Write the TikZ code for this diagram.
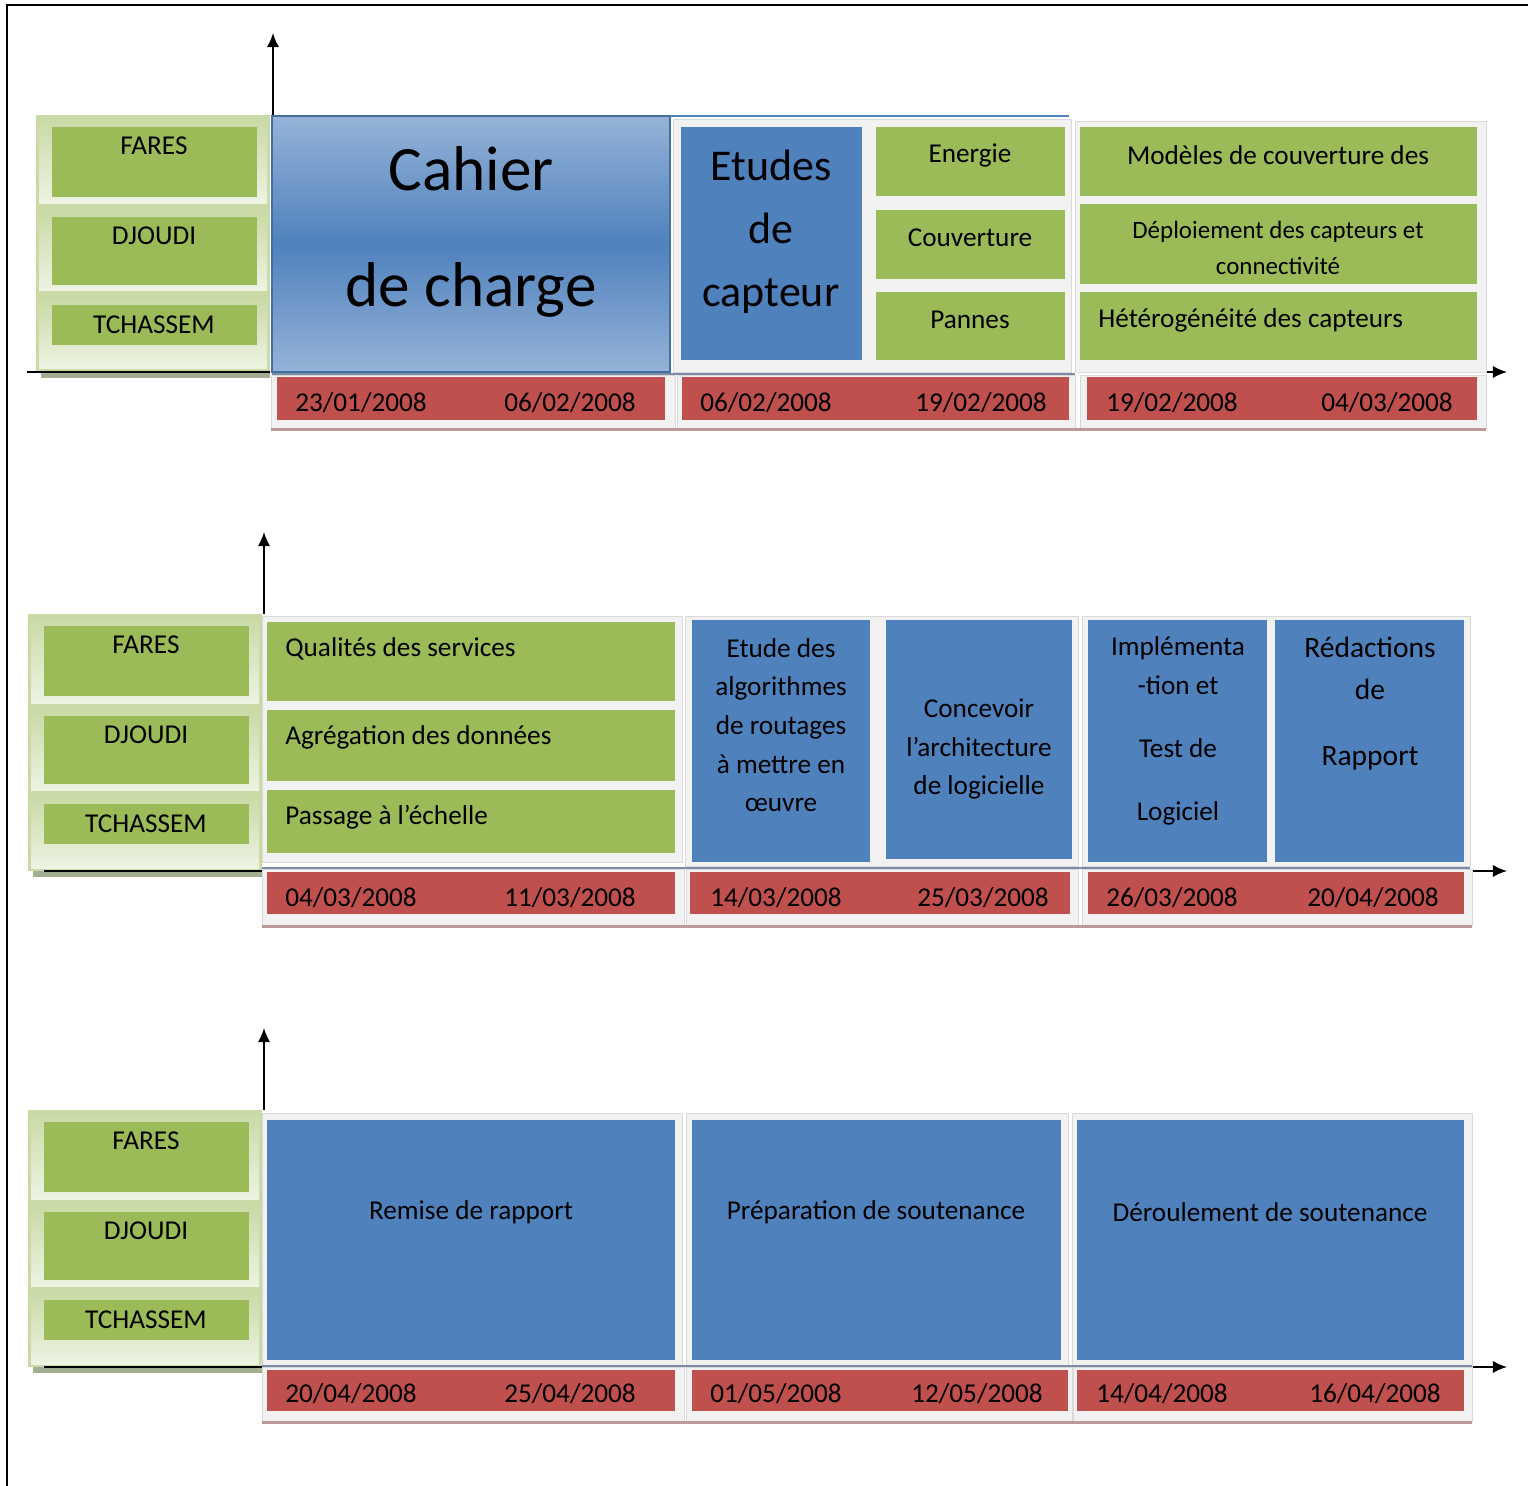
\documentclass[tikz,border=0pt]{standalone}
\usepackage{fontspec}
\setmainfont{Carlito}
\usetikzlibrary{arrows.meta}

\definecolor{vert}{HTML}{9BBB59}
\definecolor{bleu}{HTML}{4F81BD}
\definecolor{bleuclair}{HTML}{95B3D7}
\definecolor{rouge}{HTML}{C0504D}
\definecolor{grisfond}{HTML}{F2F2F2}
\definecolor{grisbord}{HTML}{D9D9D9}
\definecolor{vertclair}{HTML}{EEF3E3}
\definecolor{vertmoyen}{HTML}{C9DAA6}
\definecolor{ombre}{HTML}{A3AD92}
\definecolor{rose}{HTML}{BC9A9A}
\definecolor{liseret}{HTML}{7A8CA6}

\tikzset{
	x=0.02cm, y=-0.02cm,
	txt/.style={inner sep=0pt, align=center, font=\fontsize{15.5}{22}\selectfont},
	cadre/.style={fill=grisfond, draw=grisbord, line width=0.4pt},
	axe/.style={-{Latex[length=8pt,width=7pt]}, line width=1.1pt},
}

\begin{document}
\begin{tikzpicture}

	\useasboundingbox (0,0) rectangle (1528,1486);
	\draw[line width=1pt] (7,1486) -- (7,5) -- (1528,5);

	% panneaux des noms et axes
	\foreach \s/\ox/\oy/\ax/\lx/\rx in {1/36/115/273/27/1486, 2/28/614/264/44/1465, 3/28/1110/264/44/1465} {
		\fill[vertmoyen] (\ox,\oy) rectangle ++(234,257);
		\shade[top color=vertmoyen, bottom color=vertclair] (\ox+3,\oy+3) rectangle (\ox+231,\oy+89);
		\shade[top color=vertmoyen, bottom color=vertclair] (\ox+3,\oy+96) rectangle (\ox+231,\oy+176);
		\shade[top color=vertmoyen, bottom color=vertclair] (\ox+3,\oy+183) rectangle (\ox+231,\oy+254);
		\fill[vert] (\ox+16,\oy+12) rectangle (\ox+221,\oy+82);
		\fill[vert] (\ox+16,\oy+102) rectangle (\ox+221,\oy+170);
		\fill[vert] (\ox+16,\oy+190) rectangle (\ox+221,\oy+230);
		\node[txt] (fares\s) at (\ox+118,\oy+31) {FARES};
		\node[txt] (djoudi\s) at (\ox+118,\oy+121) {DJOUDI};
		\node[txt] (tchassem\s) at (\ox+118,\oy+210) {TCHASSEM};
		\fill[ombre] (\ox+5,\oy+257) rectangle (\ox+234,\oy+263);
		\draw[line width=1.2pt] (\lx,\oy+257) -- (\ox+234,\oy+257);
		\coordinate (pied\s) at (\ax,\oy);
		\coordinate (haut\s) at (\ax,\oy-82);
		\draw[axe] (pied\s) -- (haut\s);
		\coordinate (depart\s) at (\rx,\oy+257);
		\coordinate (bout\s) at (1507,\oy+257);
		\draw[axe] (depart\s) -- (bout\s);
	}

	% ---- premiere ligne ----
	\shade[top color=bleuclair, bottom color=bleuclair, middle color=bleu] (272,116) rectangle (670,372);
	\draw[bleu!85!black, line width=1.2pt] (272,116) rectangle (670,372);
	\node[txt, font=\fontsize{36}{66}\selectfont] (cahier) at (471,232) {Cahier\\de charge};
	\draw[bleu, line width=1.5pt] (670,116) -- (1069,116);

	\filldraw[cadre] (673,119) rectangle (1071,372);
	\fill[bleu] (681,127) rectangle (862,360);
	\node[txt, font=\fontsize{25}{36}\selectfont] (etudes) at (771,232) {Etudes\\de\\capteur};
	\fill[vert] (876,127) rectangle (1065,196);
	\fill[vert] (876,210) rectangle (1065,279);
	\fill[vert] (876,292) rectangle (1065,360);
	\node[txt] (energie) at (970,155) {Energie};
	\node[txt] (couverture) at (970,238) {Couverture};
	\node[txt] (pannes) at (970,320) {Pannes};

	\filldraw[cadre] (1075,121) rectangle (1486,372);
	\fill[vert] (1080,127) rectangle (1477,196);
	\fill[vert] (1080,204) rectangle (1477,284);
	\fill[vert] (1080,292) rectangle (1477,360);
	\node[txt] (modeles) at (1278,155) {Modèles de couverture des};
	\node[txt, font=\fontsize{14.2}{20.4}\selectfont] (deploiement) at (1278,248) {Déploiement des capteurs et\\connectivité};
	\node[txt, anchor=west] (hetero) at (1098,320) {Hétérogénéité des capteurs};
	\draw[liseret, line width=1.5pt] (272,374) -- (1075,374);

	\filldraw[cadre] (271,375) rectangle (675,428);
	\filldraw[cadre] (677,375) rectangle (1075,428);
	\filldraw[cadre] (1080,375) rectangle (1486,428);
	\fill[rose] (271,428) rectangle (1486,431);
	\fill[rouge] (277,377) rectangle (665,420);
	\fill[rouge] (682,377) rectangle (1069,420);
	\fill[rouge] (1087,377) rectangle (1477,420);
	\node[txt] (debut1) at (361,403) {23/01/2008};
	\node[txt] (fin1) at (570,403) {06/02/2008};
	\node[txt] (debut2) at (766,403) {06/02/2008};
	\node[txt] (fin2) at (981,403) {19/02/2008};
	\node[txt] (debut3) at (1172,403) {19/02/2008};
	\node[txt] (fin3) at (1387,403) {04/03/2008};

	% ---- deuxieme ligne ----
	\filldraw[cadre] (262,616) rectangle (682,862);
	\fill[vert] (267,622) rectangle (675,701);
	\fill[vert] (267,710) rectangle (675,781);
	\fill[vert] (267,790) rectangle (675,853);
	\node[txt, anchor=west] (qualites) at (285,649) {Qualités des services};
	\node[txt, anchor=west] (agregation) at (285,737) {Agrégation des données};
	\node[txt, anchor=west] (passage) at (285,817) {Passage à l’échelle};

	\filldraw[cadre] (685,616) rectangle (1078,866);
	\fill[bleu] (692,620) rectangle (870,862);
	\fill[bleu] (886,620) rectangle (1072,859);
	\node[txt] (routage) at (781,725) {Etude des\\algorithmes\\de routages\\à mettre en\\œuvre};
	\node[txt] (concevoir) at (979,749) {Concevoir\\l’architecture\\de logicielle};

	\filldraw[cadre] (1082,616) rectangle (1470,866);
	\fill[bleu] (1088,620) rectangle (1267,862);
	\fill[bleu] (1275,620) rectangle (1464,862);
	\node[txt] (implementation) at (1178,731) {Implémenta\\-tion et\\[14pt]Test de\\[14pt]Logiciel};
	\node[txt, font=\fontsize{16.8}{23.8}\selectfont] (redaction) at (1370,704) {Rédactions\\de\\[14pt]Rapport};
	\draw[liseret, line width=1.5pt] (262,868) -- (1470,868);

	\filldraw[cadre] (262,869) rectangle (684,925);
	\filldraw[cadre] (686,869) rectangle (1078,925);
	\filldraw[cadre] (1082,869) rectangle (1472,925);
	\fill[rose] (262,925) rectangle (1472,928);
	\fill[rouge] (267,872) rectangle (675,914);
	\fill[rouge] (690,872) rectangle (1070,914);
	\fill[rouge] (1088,872) rectangle (1464,914);
	\node[txt] (debut4) at (351,898) {04/03/2008};
	\node[txt] (fin4) at (570,898) {11/03/2008};
	\node[txt] (debut5) at (776,898) {14/03/2008};
	\node[txt] (fin5) at (983,898) {25/03/2008};
	\node[txt] (debut6) at (1172,898) {26/03/2008};
	\node[txt] (fin6) at (1373,898) {20/04/2008};

	% ---- troisieme ligne ----
	\filldraw[cadre] (262,1113) rectangle (682,1366);
	\filldraw[cadre] (686,1113) rectangle (1068,1366);
	\filldraw[cadre] (1072,1113) rectangle (1472,1366);
	\fill[bleu] (267,1120) rectangle (675,1360);
	\fill[bleu] (692,1120) rectangle (1061,1360);
	\fill[bleu] (1077,1120) rectangle (1464,1360);
	\node[txt] (remise) at (471,1212) {Remise de rapport};
	\node[txt] (preparation) at (876,1212) {Préparation de soutenance};
	\node[txt] (deroulement) at (1270,1212) {Déroulement de soutenance};
	\draw[liseret, line width=1.5pt] (262,1366) -- (1472,1366);

	\filldraw[cadre] (262,1367) rectangle (684,1421);
	\filldraw[cadre] (686,1367) rectangle (1072,1421);
	\filldraw[cadre] (1073,1367) rectangle (1472,1421);
	\fill[rose] (262,1421) rectangle (1472,1424);
	\fill[rouge] (267,1370) rectangle (675,1411);
	\fill[rouge] (692,1370) rectangle (1068,1411);
	\fill[rouge] (1077,1370) rectangle (1464,1411);
	\node[txt] (debut7) at (351,1394) {20/04/2008};
	\node[txt] (fin7) at (570,1394) {25/04/2008};
	\node[txt] (debut8) at (776,1394) {01/05/2008};
	\node[txt] (fin8) at (977,1394) {12/05/2008};
	\node[txt] (debut9) at (1162,1394) {14/04/2008};
	\node[txt] (fin9) at (1375,1394) {16/04/2008};

\end{tikzpicture}
\end{document}
